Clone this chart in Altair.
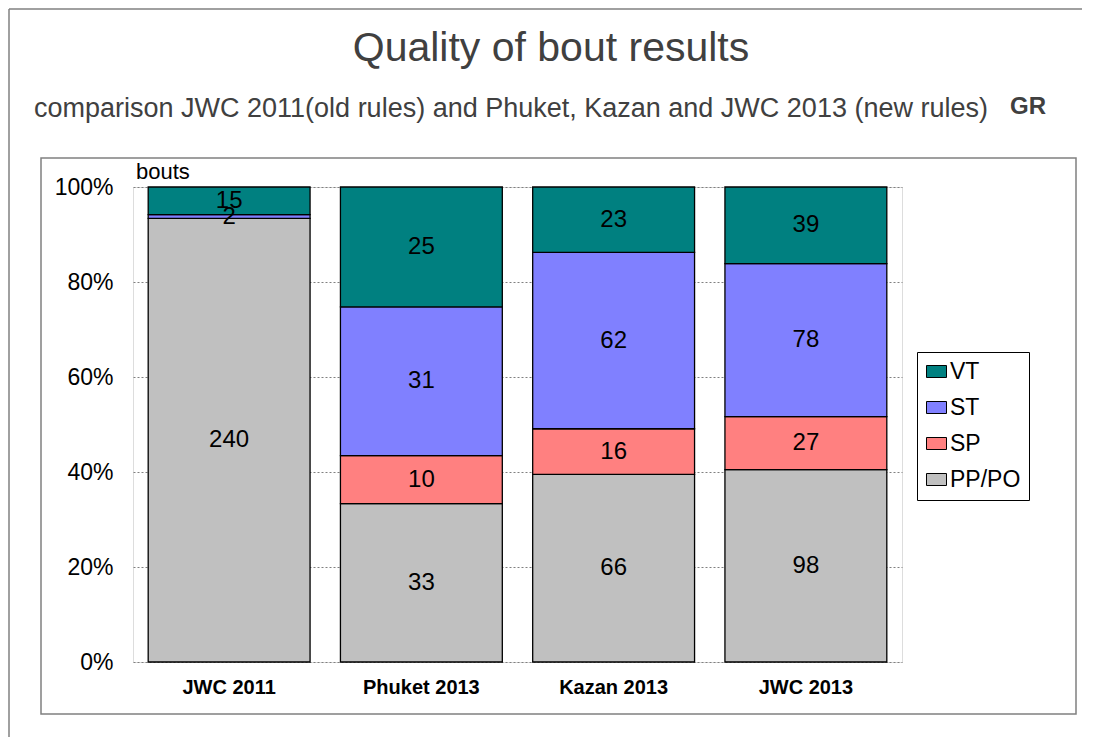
import altair as alt
import pandas as pd

events = ["JWC 2011", "Phuket 2013", "Kazan 2013", "JWC 2013"]
categories = ["VT", "ST", "SP", "PP/PO"]
colors = ["#008080", "#8080FF", "#FF8080", "#C0C0C0"]
pp_po = [240, 33, 66, 98]
sp = [0, 10, 16, 27]
st = [2, 31, 62, 78]
vt = [15, 25, 23, 39]

rows = []
for i, ev in enumerate(events):
    for cat, vals, rank in [("PP/PO", pp_po, 0), ("SP", sp, 1), ("ST", st, 2), ("VT", vt, 3)]:
        rows.append({"event": ev, "cat": cat, "count": vals[i], "rank": rank})
df = pd.DataFrame(rows)

FONT = "Liberation Sans"

base = alt.Chart(df).transform_stack(
    stack="count", groupby=["event"], sort=[alt.SortField("rank", order="ascending")],
    as_=["y0", "y1"], offset="normalize"
).transform_calculate(mid="(datum.y0 + datum.y1) / 2")

xenc = alt.X("event:N", sort=events, title=None,
             scale=alt.Scale(paddingInner=0.158, paddingOuter=0.079),
             axis=alt.Axis(labelAngle=0, labelFontWeight="bold", labelFontSize=20,
                           labelFont=FONT, labelColor="black", labelPadding=15,
                           ticks=False, domain=False))

bars = base.mark_bar(stroke="black", strokeWidth=1.3).encode(
    x=xenc,
    y=alt.Y("y0:Q", title=None, scale=alt.Scale(domain=[0, 1], nice=False),
            axis=alt.Axis(format="%", values=[0, 0.2, 0.4, 0.6, 0.8, 1.0],
                          labelFontSize=23, labelFont=FONT, labelColor="black",
                          labelPadding=20, ticks=False, domain=False,
                          grid=True, gridDash=[2, 2], gridColor="#808080", gridWidth=1)),
    y2="y1:Q",
    color=alt.Color("cat:N", scale=alt.Scale(domain=categories, range=colors),
                    legend=alt.Legend(title=None, orient="none", legendX=784, legendY=165,
                                      strokeColor="black", fillColor="white", padding=8,
                                      symbolType="M-1,-0.6H1V0.6H-1Z", symbolSize=400,
                                      symbolStrokeColor="black", symbolStrokeWidth=1,
                                      labelFontSize=23, labelFont=FONT, labelColor="black",
                                      rowPadding=12, labelOffset=2)),
)

labels = base.transform_filter("datum.count > 0").mark_text(
    fontSize=24, font=FONT, color="black", baseline="middle", align="center"
).encode(
    x=alt.X("event:N", sort=events),
    y=alt.Y("mid:Q"),
    text="count:Q",
)

def txt(s, x, y, size, align="center", weight="normal", color="#404040"):
    return alt.Chart(pd.DataFrame({"t": [s]})).mark_text(
        fontSize=size, font=FONT, align=align, baseline="middle", fontWeight=weight, color=color
    ).encode(text="t:N", x=alt.value(x), y=alt.value(y))

title = txt("Quality of bout results", 418, -138, 41)
subtitle = txt("comparison JWC 2011(old rules) and Phuket, Kazan and JWC 2013 (new rules)", -99, -78, 27, align="left")
gr = txt("GR", 895, -80, 24, weight="bold")
bouts = txt("bouts", 3, -15, 22, align="left", color="black")

one = pd.DataFrame({"a": [0]})
inner_frame = alt.Chart(one).mark_rect(fill=None, stroke="#808080", strokeWidth=1.5).encode(
    x=alt.value(-92), x2=alt.value(943), y=alt.value(-29), y2=alt.value(527))
outer_top = alt.Chart(one).mark_rule(stroke="#808080", strokeWidth=1.5).encode(
    x=alt.value(-124), x2=alt.value(962), y=alt.value(-178))
outer_left = alt.Chart(one).mark_rule(stroke="#808080", strokeWidth=1.5).encode(
    x=alt.value(-124), y=alt.value(-178), y2=alt.value(560))

chart = alt.layer(inner_frame, outer_top, outer_left, bars, labels, title, subtitle, gr, bouts).properties(
    width=769, height=475,
    padding={"left": 125, "top": 179, "right": 180, "bottom": 75},
    autosize=alt.AutoSizeParams(type="none"),
).configure_view(stroke="black", strokeWidth=1.5).configure(background="white")

chart.save("out.html", embed_options={"renderer": "svg", "actions": False})
